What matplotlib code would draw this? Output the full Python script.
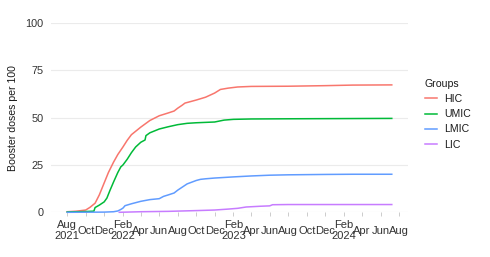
import matplotlib
matplotlib.use("Agg")
import matplotlib.pyplot as plt
import pandas as pd

plt.rcParams['font.family'] = ['Liberation Sans', 'DejaVu Sans']

# ---- data ----
hic_dates = ["2021-08-01", "2021-09-01", "2021-10-01", "2021-10-15", "2021-11-01", "2021-11-15",
             "2021-12-01", "2021-12-15", "2022-01-01", "2022-01-15", "2022-02-01", "2022-02-15",
             "2022-03-01", "2022-04-01", "2022-05-01", "2022-06-01", "2022-07-01", "2022-07-20",
             "2022-08-01", "2022-08-15", "2022-08-25", "2022-09-15", "2022-10-01", "2022-11-01",
             "2022-12-01", "2022-12-20", "2023-01-15", "2023-02-15", "2023-04-01", "2023-08-01",
             "2023-12-01", "2024-03-01", "2024-07-08"]
hic_vals = [0.3, 0.6, 1.2, 2.6, 4.8, 9.2,
            15.5, 21.0, 26.5, 30.5, 34.5, 38.0,
            41.0, 45.0, 48.5, 51.0, 52.5, 53.5,
            55.0, 56.5, 57.7, 58.6, 59.3, 60.8,
            63.0, 64.9, 65.6, 66.2, 66.5, 66.6,
            66.9, 67.2, 67.3]

umic_dates = ["2021-08-01", "2021-10-01", "2021-10-28", "2021-11-01", "2021-11-15", "2021-12-01",
              "2021-12-10", "2021-12-20", "2022-01-01", "2022-01-15", "2022-01-25", "2022-02-01",
              "2022-02-15", "2022-03-01", "2022-03-15", "2022-04-01", "2022-04-15", "2022-04-18",
              "2022-05-01", "2022-06-01", "2022-07-01", "2022-08-01", "2022-09-01", "2022-10-01",
              "2022-12-01", "2023-01-01", "2023-02-01", "2023-04-01", "2023-08-01", "2024-07-08"]
umic_vals = [0.2, 0.4, 0.6, 2.5, 3.8, 5.5,
             7.5, 11.5, 16.0, 21.0, 24.0, 25.0,
             28.0, 31.5, 34.5, 37.0, 38.2, 40.5,
             42.0, 44.0, 45.2, 46.3, 47.0, 47.3,
             47.7, 48.7, 49.1, 49.3, 49.4, 49.6]

lmic_dates = ["2021-08-01", "2021-12-01", "2022-01-01", "2022-01-15", "2022-01-25", "2022-02-01",
              "2022-02-08", "2022-03-01", "2022-04-01", "2022-05-01", "2022-06-01", "2022-06-15",
              "2022-07-01", "2022-07-20", "2022-08-01", "2022-09-01", "2022-10-01", "2022-10-15",
              "2022-11-01", "2022-12-01", "2023-02-01", "2023-04-01", "2023-06-01", "2023-08-01",
              "2023-12-01", "2024-03-01", "2024-07-08"]
lmic_vals = [0.0, 0.1, 0.3, 0.7, 1.5, 2.2,
             3.5, 4.5, 5.8, 6.7, 7.2, 8.4,
             9.2, 10.2, 11.7, 15.0, 16.8, 17.4,
             17.7, 18.1, 18.7, 19.2, 19.6, 19.8,
             20.0, 20.1, 20.1]

lic_dates = ["2022-01-20", "2022-04-01", "2022-07-01", "2022-10-01", "2022-12-01", "2023-01-15",
             "2023-02-15", "2023-03-15", "2023-05-01", "2023-06-01", "2023-06-10", "2023-08-01",
             "2024-07-08"]
lic_vals = [0.0, 0.3, 0.5, 0.9, 1.2, 1.7,
            2.1, 2.8, 3.2, 3.4, 4.0, 4.1,
            4.1]

groups = ["HIC", "UMIC", "LMIC", "LIC"]
colors = ["#F8766D", "#00BA38", "#619CFF", "#C77CFF"]
series = [(hic_dates, hic_vals), (umic_dates, umic_vals),
          (lmic_dates, lmic_vals), (lic_dates, lic_vals)]

tick_dates = pd.date_range("2021-08-01", "2024-08-01", freq="2MS")
tick_labels = []
prev_year = None
for d in tick_dates:
    lab = d.strftime("%b")
    if d.year != prev_year:
        lab += "\n" + str(d.year)
        prev_year = d.year
    tick_labels.append(lab)

y_ticks = [0, 25, 50, 75, 100]

# ---- figure ----
W, H = 490, 257
fig = plt.figure(figsize=(W / 100, H / 100), dpi=100)
ax = fig.add_axes([51 / W, 1 - 212.3 / H, 357 / W, (212.3 - 23) / H])

handles = []
for (dts, vals), g, c in zip(series, groups, colors):
    h, = ax.plot(pd.to_datetime(dts), vals, color=c, lw=1.1, label=g,
                 clip_on=False, solid_joinstyle='round')
    handles.append(h)

ax.margins(x=0.05)
ax.set_ylim(0, 100)
ax.set_yticks(y_ticks)
ax.set_xticks(tick_dates)
ax.set_xticklabels(tick_labels)

for s in ax.spines.values():
    s.set_visible(False)
ax.grid(axis='y', color='#EBEBEB', lw=0.8)
ax.grid(axis='x', visible=False)
ax.set_axisbelow(True)

ax.tick_params(axis='y', length=0, pad=5.5, labelsize=7.8, labelcolor='#333333')
ax.tick_params(axis='x', length=3, width=0.7, color='#CCCCCC', pad=10.2,
               labelsize=8.0, labelcolor='#333333')
for lbl in ax.get_xticklabels():
    lbl.set_va('center')
    lbl.set_ha('center')
    lbl.set_multialignment('center')
    lbl.set_linespacing(1.05)

ax.set_ylabel("Booster doses per 100", fontsize=7.6, color='#1a1a1a', labelpad=5)

leg = ax.legend(handles, groups, title="Groups", loc='upper left',
                bbox_to_anchor=(422 / W, 1 - 76 / H), bbox_transform=fig.transFigure,
                frameon=False, fontsize=7.6, title_fontsize=7.6, handlelength=1.15,
                handletextpad=0.7, labelspacing=0.5, borderpad=0.25, borderaxespad=0,
                alignment='left')
for t in leg.get_texts():
    t.set_color('#1a1a1a')
leg.get_title().set_color('#1a1a1a')

fig.savefig("out.png", dpi=100)
